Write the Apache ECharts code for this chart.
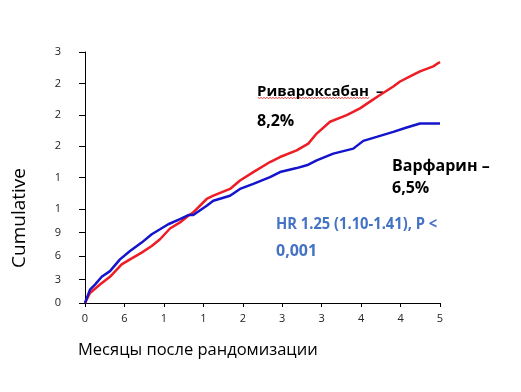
<!DOCTYPE html>
<html>
<head>
<meta charset="utf-8">
<script src="https://cdn.jsdelivr.net/npm/echarts@6/dist/echarts.min.js"></script>
<style>
html,body{margin:0;padding:0;background:#fff;}
#chart{width:521px;height:392px;}
</style>
</head>
<body>
<div id="chart"></div>
<script>
// ---- data ----
var xTickValues = [0, 6, 12, 18, 24, 30, 36, 42, 48, 54];
var xTickLabels = ['0', '6', '1', '1', '2', '3', '3', '4', '4', '5'];
var yTickValues = [0, 3, 6, 9, 12, 16, 20, 24, 28, 32];
var yTickLabels = ['0', '3', '6', '9', '1', '1', '2', '2', '2', '3'];

var rivaMonths = [0, 0.76, 2.28, 3.80, 5.58, 6.85, 8.62, 10.15, 11.41, 12.93, 14.45, 15.72, 16.47, 18.51, 19.52, 22.06, 23.58, 25.60, 28.14, 29.66, 32.20, 33.97, 35.24, 37.27, 39.81, 41.83, 43.35, 44.87, 46.90, 47.92, 49.44, 50.96, 52.98, 53.74, 54.0];
var rivaValues = [0, 1.28, 2.35, 3.34, 4.92, 5.56, 6.42, 7.27, 8.13, 9.50, 10.27, 11.12, 11.55, 13.26, 13.68, 14.54, 15.61, 16.69, 17.97, 18.61, 19.46, 20.32, 21.60, 23.11, 23.95, 24.81, 25.67, 26.52, 27.60, 28.24, 28.88, 29.53, 30.17, 30.59, 30.72];

var warfMonths = [0, 0.76, 1.52, 2.54, 3.80, 5.32, 6.85, 8.62, 10.15, 11.41, 12.67, 14.45, 15.72, 16.47, 18.51, 19.52, 22.06, 23.58, 25.60, 28.14, 29.66, 32.20, 33.97, 35.24, 37.77, 40.81, 42.33, 44.37, 46.90, 48.93, 50.96, 54.0];
var warfValues = [0, 1.71, 2.35, 3.34, 4.06, 5.56, 6.62, 7.70, 8.77, 9.40, 10.04, 10.69, 11.21, 11.21, 12.40, 13.04, 13.68, 14.54, 15.19, 16.05, 16.69, 17.20, 17.63, 18.18, 19.04, 19.68, 20.67, 21.18, 21.82, 22.38, 22.89, 22.89];

function pairs(xs, ys) { return xs.map(function (x, i) { return [x, ys[i]]; }); }

var chart = echarts.init(document.getElementById('chart'), null, {renderer: 'canvas'});
var font = '"Open Sans", "DejaVu Sans", sans-serif';

// red wavy underline (spell-check decoration)
var wave = [];
for (var k = 0; k <= 74; k++) { wave.push([258 + k * 1.5, k % 2 === 0 ? 97 : 99]); }

chart.setOption({
  animation: false,
  grid: {left: 85, top: 52, width: 355, height: 251, containLabel: false},
  xAxis: {
    type: 'value', min: 0, max: 54,
    axisLine: {show: true, lineStyle: {color: '#000', width: 1}},
    axisTick: {show: true, length: 4, lineStyle: {color: '#000'}, customValues: xTickValues},
    axisLabel: {
      customValues: xTickValues, margin: 10,
      color: '#222', fontSize: 11, fontFamily: font,
      formatter: function (v) { var i = xTickValues.indexOf(v); return i >= 0 ? xTickLabels[i] : ''; }
    },
    splitLine: {show: false}
  },
  yAxis: {
    type: 'value', min: 0, max: 32,
    axisLine: {show: true, lineStyle: {color: '#000', width: 1}},
    axisTick: {show: true, length: 6, lineStyle: {color: '#000'}, customValues: yTickValues},
    axisLabel: {
      customValues: yTickValues, margin: 24,
      color: '#222', fontSize: 11, fontFamily: font,
      padding: [14, 0, 0, 0],
      formatter: function (v) { var i = yTickValues.indexOf(v); return i >= 0 ? yTickLabels[i] : ''; }
    },
    splitLine: {show: false}
  },
  series: [
    {
      type: 'line', name: 'Ривароксабан', data: pairs(rivaMonths, rivaValues),
      showSymbol: false, smooth: false,
      lineStyle: {color: '#ee1c24', width: 2.5}, z: 3
    },
    {
      type: 'line', name: 'Варфарин', data: pairs(warfMonths, warfValues),
      showSymbol: false, smooth: false,
      lineStyle: {color: '#1414cc', width: 2.5}, z: 4
    }
  ],
  graphic: [
    {type: 'text', left: 10, top: 168, rotation: Math.PI / 2, style: {text: 'Cumulative', font: '19px ' + font, fill: '#000'}},
    {type: 'text', x: 78, y: 350, style: {text: 'Месяцы после рандомизации', font: '16.5px ' + font, fill: '#000', textVerticalAlign: 'middle'}},
    {type: 'polyline', shape: {points: wave}, style: {stroke: '#e84040', lineWidth: 0.8, fill: null}},
    {type: 'text', x: 257, y: 92, style: {text: 'Ривароксабан', font: 'bold 15px ' + font, fill: '#000', textVerticalAlign: 'middle'}},
    {type: 'text', x: 376, y: 92, style: {text: '–', font: 'bold 15px ' + font, fill: '#000', textVerticalAlign: 'middle'}},
    {type: 'text', x: 257, y: 121, style: {text: '8,2%', font: 'bold 16px ' + font, fill: '#000', textVerticalAlign: 'middle'}},
    {type: 'text', x: 392, y: 166, style: {text: 'Варфарин –', font: 'bold 16px ' + font, fill: '#000', textVerticalAlign: 'middle'}},
    {type: 'text', x: 392, y: 188, style: {text: '6,5%', font: 'bold 16px ' + font, fill: '#000', textVerticalAlign: 'middle'}},
    {type: 'text', x: 276, y: 224, scaleX: 0.92, style: {text: 'HR 1.25 (1.10-1.41), P <', font: 'bold 16px ' + font, fill: '#4472c4', textVerticalAlign: 'middle'}},
    {type: 'text', x: 276, y: 251, style: {text: '0,001', font: 'bold 16px ' + font, fill: '#4472c4', textVerticalAlign: 'middle'}}
  ]
});
</script>
</body>
</html>
